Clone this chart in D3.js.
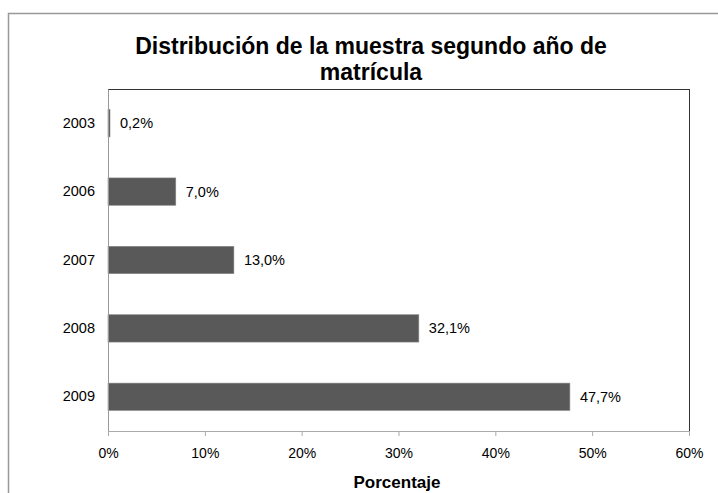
<!DOCTYPE html>
<html>
<head>
<meta charset="utf-8">
<script src="https://cdn.jsdelivr.net/npm/d3@7"></script>
<style>
  body { margin: 0; background: #fff; }
  text { font-family: "Liberation Sans", Arial, sans-serif; fill: #000; }
</style>
</head>
<body>
<script>
// Data
const years = ["2003", "2006", "2007", "2008", "2009"];
const percents = [0.2, 7.0, 13.0, 32.1, 47.7];
const xTicks = [0, 10, 20, 30, 40, 50, 60];

const W = 718, H = 493;
const margin = {top: 89, bottom: 62, left: 108, right: 29};
const width = W - margin.left - margin.right;
const height = H - margin.top - margin.bottom;

const svg = d3.select('body').append('svg')
  .attr('width', W)
  .attr('height', H);

// outer chart border (runs off the right and bottom)
svg.append('rect')
  .attr('x', 8.5).attr('y', 13.5)
  .attr('width', W + 10).attr('height', H + 10)
  .attr('fill', 'none')
  .attr('stroke', '#999').attr('stroke-width', 1.5);

// title
const title = svg.append('text')
  .attr('text-anchor', 'middle')
  .style('font-size', '23px')
  .style('font-weight', 'bold');
title.append('tspan').attr('x', 371).attr('y', 54).text('Distribución de la muestra segundo año de');
title.append('tspan').attr('x', 371).attr('y', 80).text('matrícula');

const g = svg.append('g')
  .attr('transform', `translate(${margin.left},${margin.top})`);

// scales
const xscale = d3.scaleLinear().domain([0, 60]).range([0, width]);
const yscale = d3.scaleBand().domain(years).range([0, height]).paddingInner(0.6).paddingOuter(0.3);

// plot frame: top and right dark, left and bottom gray
g.append('line').attr('x1', 0).attr('x2', width).attr('y1', 0.5).attr('y2', 0.5)
  .attr('stroke', '#333');
g.append('line').attr('x1', width + 0.5).attr('x2', width + 0.5).attr('y1', 0).attr('y2', height)
  .attr('stroke', '#333');

// bars
const data = years.map((y, i) => ({year: y, value: percents[i]}));
g.selectAll('rect.bar').data(data).join('rect')
  .attr('class', 'bar')
  .attr('x', 0)
  .attr('y', d => yscale(d.year))
  .attr('height', yscale.bandwidth())
  .attr('width', d => Math.max(xscale(d.value), 2))
  .attr('fill', '#595959')
  .attr('stroke', '#8a8a8a')
  .attr('stroke-width', 0.6);

// value labels
const fmt = d => d.toFixed(1).replace('.', ',') + '%';
g.selectAll('text.val').data(data).join('text')
  .attr('class', 'val')
  .attr('x', d => Math.max(xscale(d.value), 2) + 10)
  .attr('y', d => yscale(d.year) + yscale.bandwidth() / 2)
  .attr('dy', '0.35em')
  .style('font-size', '14.5px')
  .text(d => fmt(d.value));

// y axis
const yaxis = d3.axisLeft(yscale).tickSize(0).tickPadding(13);
const g_yaxis = g.append('g').call(yaxis);
g_yaxis.select('.domain').attr('stroke', '#999');
g_yaxis.selectAll('text').style('font-size', '14.5px')
  .style('font-family', '"Liberation Sans", Arial, sans-serif').attr('fill', '#000');

// x axis
const xaxis = d3.axisBottom(xscale).tickValues(xTicks).tickSize(5).tickSizeOuter(5)
  .tickPadding(12).tickFormat(d => d + '%');
const g_xaxis = g.append('g').attr('transform', `translate(0,${height})`).call(xaxis);
g_xaxis.select('.domain').attr('stroke', '#aaa');
g_xaxis.selectAll('.tick line').attr('stroke', '#aaa');
g_xaxis.selectAll('text').style('font-size', '14px')
  .style('font-family', '"Liberation Sans", Arial, sans-serif').attr('fill', '#000');

// x axis title
svg.append('text')
  .attr('x', 397)
  .attr('y', 488)
  .attr('text-anchor', 'middle')
  .style('font-size', '17px')
  .style('font-weight', 'bold')
  .text('Porcentaje');
</script>
</body>
</html>
